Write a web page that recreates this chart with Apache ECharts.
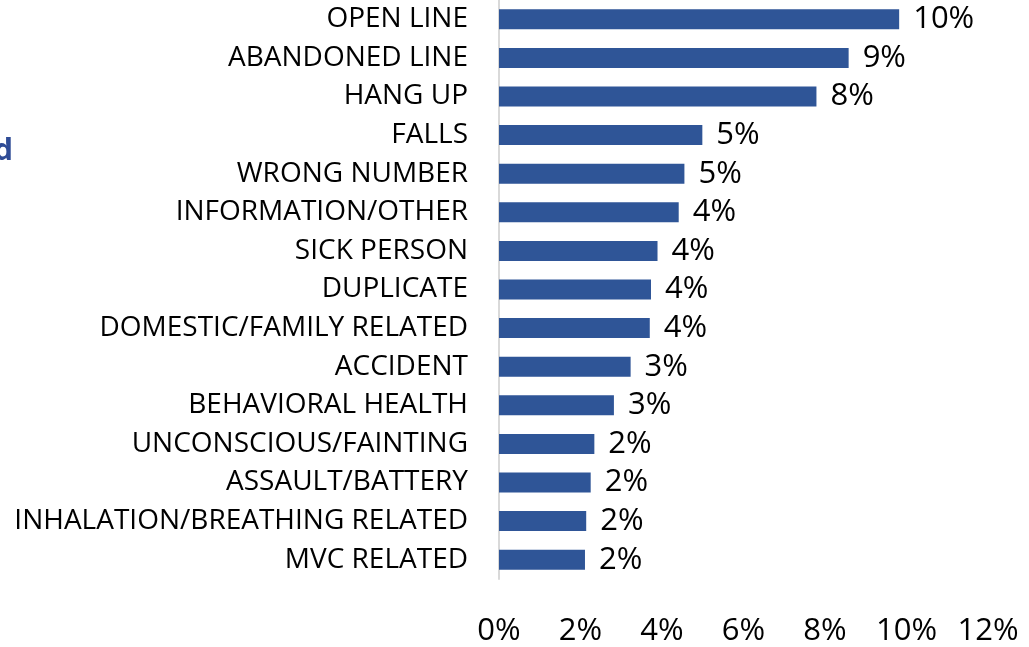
<!DOCTYPE html>
<html>
<head>
<meta charset="utf-8">
<script src="https://cdn.jsdelivr.net/npm/echarts@6/dist/echarts.min.js"></script>
<style>
html,body{margin:0;padding:0;background:#fff;}
#chart{width:1029px;height:647px;}
</style>
</head>
<body>
<div id="chart"></div>
<script>
const categories = [
  "OPEN LINE","ABANDONED LINE","HANG UP","FALLS","WRONG NUMBER",
  "INFORMATION/OTHER","SICK PERSON","DUPLICATE","DOMESTIC/FAMILY RELATED",
  "ACCIDENT","BEHAVIORAL HEALTH","UNCONSCIOUS/FAINTING","ASSAULT/BATTERY",
  "INHALATION/BREATHING RELATED","MVC RELATED"
];
const values = [9.82, 8.58, 7.79, 4.99, 4.55, 4.41, 3.89, 3.73, 3.70, 3.23, 2.82, 2.34, 2.25, 2.14, 2.11];
const xTicks = { min: 0, max: 12, interval: 2 };
const clippedTitle = "d";

const chart = echarts.init(document.getElementById('chart'), null, {renderer: 'canvas'});
const font = "'Open Sans', sans-serif";
chart.setOption({
  animation: false,
  backgroundColor: '#ffffff',
  grid: { left: 499, right: 41, top: 0, bottom: 61.5, containLabel: false },
  xAxis: {
    type: 'value',
    min: xTicks.min, max: xTicks.max, interval: xTicks.interval,
    axisLine: { show: false },
    axisTick: { show: false },
    splitLine: { show: false },
    axisLabel: {
      formatter: '{value}%',
      fontFamily: font, fontSize: 31, color: '#000', margin: 37
    }
  },
  yAxis: {
    type: 'category',
    data: categories,
    inverse: true,
    axisLine: { show: true, lineStyle: { color: '#d9d9d9', width: 2 } },
    axisTick: { show: false },
    axisLabel: { fontFamily: font, fontSize: 28, color: '#000', margin: 31, padding: [4, 0, 0, 0] }
  },
  series: [{
    type: 'bar',
    data: values,
    barWidth: 20,
    itemStyle: { color: '#2F5597' },
    label: {
      show: true, position: 'right', distance: 14,
      fontFamily: font, fontSize: 31, color: '#000', padding: [4, 0, 0, 0],
      formatter: p => Math.round(p.value) + '%'
    }
  }],
  graphic: [{
    type: 'text', right: 1016, top: 136,
    style: { text: clippedTitle, font: "bold 31px 'Open Sans', sans-serif", fill: '#2F4C96', textAlign: 'right' }
  }]
});
</script>
</body>
</html>
